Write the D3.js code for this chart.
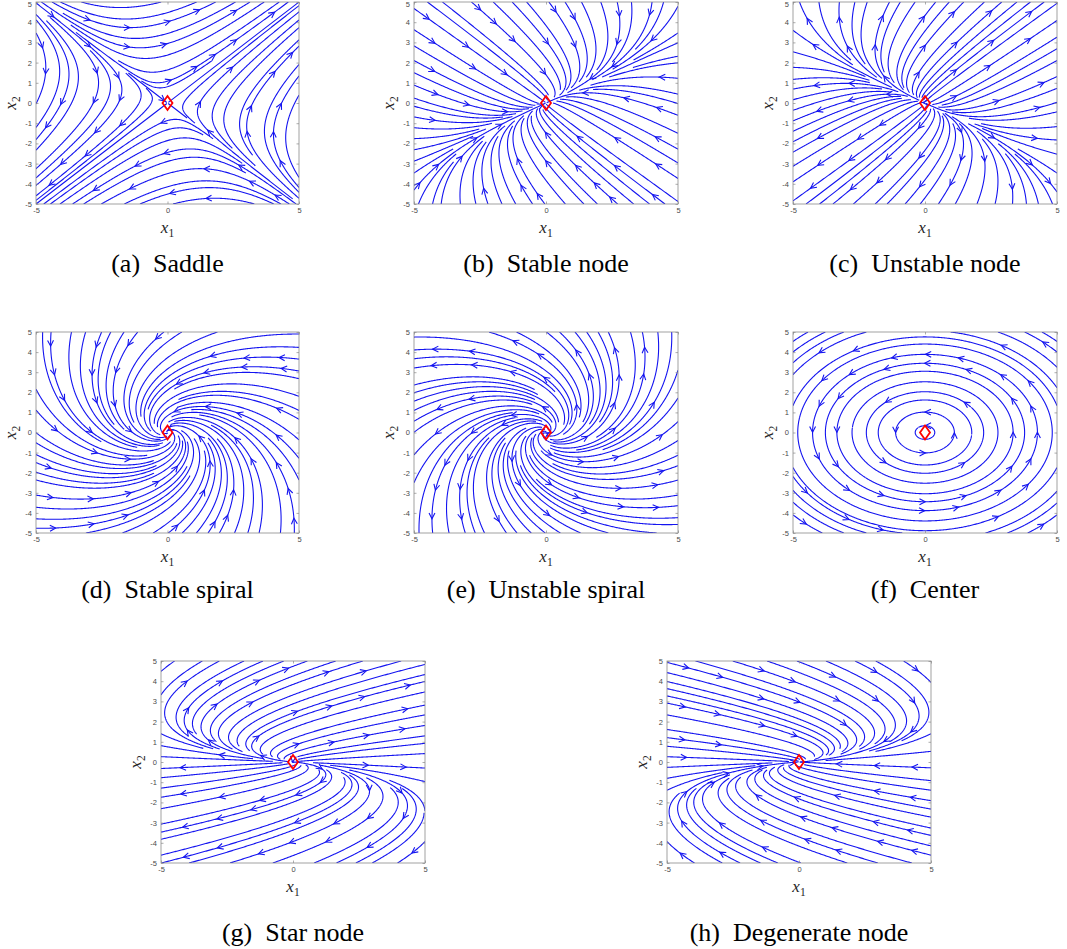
<!DOCTYPE html>
<html>
<head>
<meta charset="utf-8">
<script src="https://cdn.jsdelivr.net/npm/d3@7"></script>
<style>
  body { margin: 0; background: #fff; }
</style>
</head>
<body>
<svg id="fig" width="1067" height="949"></svg>
<script>
// Phase portraits of planar linear systems x' = A x.
const panelLetters = ["a", "b", "c", "d", "e", "f", "g", "h"];
const panelNames = ["Saddle", "Stable node", "Unstable node", "Stable spiral",
                    "Unstable spiral", "Center", "Star node", "Degenerate node"];
// System matrices [[a11, a12], [a21, a22]], one per portrait
const systemMatrices = [
  [[0.38, 1], [1, 0.38]],
  [[-1.75, 1.25], [0.7, -2.15]],
  [[1.75, 1.25], [0.7, 2.15]],
  [[-1, -1], [1, -1]],
  [[1, -1], [1, 1]],
  [[0, -1.2], [1, 0]],
  [[1, 2], [0, 1]],
  [[-1, 2], [0, -1]]
];
const equilibrium = [0, 0];
const axisDomain = [-5, 5];
const xTickValues = [-5, 0, 5];
const yTickValues = [-5, -4, -3, -2, -1, 0, 1, 2, 3, 4, 5];

// Panel placement: [left, top, width, height, captionBaseline]
const layout = [
  [36, 2, 263, 202, 272], [414, 2, 264, 202, 272], [793, 2, 264, 202, 272],
  [36, 332, 263, 201, 598], [414, 332, 264, 201, 598], [793, 332, 264, 201, 598],
  [161, 661, 264, 202, 941], [667, 661, 264, 202, 941]
];

// Evenly spaced streamlines: seed on a coarse grid, stop a line when it
// enters a fine-grid cell already claimed by another line.
function streamSlice(A) {
  const lo = axisDomain[0], hi = axisDomain[1], span = hi - lo;
  const NS = 20, NE = 80, NA = 7;
  const startGrid = new Uint8Array(NS * NS);
  const endOwner = new Int32Array(NE * NE).fill(-1);
  const endIdx = new Int32Array(NE * NE);
  const arrowTaken = new Uint8Array(NA * NA);
  const h = 0.035, maxSteps = 2000, loopGap = 45;
  const dirAt = (x, y) => {
    const u = A[0][0] * x + A[0][1] * y, v = A[1][0] * x + A[1][1] * y;
    const m = Math.hypot(u, v);
    return m < 1e-12 ? null : [u / m, v / m];
  };
  const cellOf = (x, y, n) => {
    let i = Math.floor((x - lo) / span * n), j = Math.floor((y - lo) / span * n);
    i = Math.max(0, Math.min(n - 1, i)); j = Math.max(0, Math.min(n - 1, j));
    return j * n + i;
  };
  const lines = [], arrows = [];
  const total = NS * NS;
  let id = 0;
  for (let k = 0; k < total; k++) {
    const cell = (k * 137 + 61) % total;
    if (startGrid[cell]) continue;
    startGrid[cell] = 1;
    const ci = cell % NS, cj = Math.floor(cell / NS);
    const x0 = lo + (ci + 0.5) * span / NS, y0 = lo + (cj + 0.5) * span / NS;
    const e0 = cellOf(x0, y0, NE);
    if (endOwner[e0] !== -1) continue;
    endOwner[e0] = id; endIdx[e0] = 0;
    const traces = [];
    for (const dir of [-1, 1]) {
      const pts = [];
      let x = x0, y = y0;
      for (let s = 1; s <= maxSteps; s++) {
        const f1 = dirAt(x, y); if (!f1) break;
        const f2 = dirAt(x + dir * f1[0] * h / 2, y + dir * f1[1] * h / 2); if (!f2) break;
        const nx = x + dir * f2[0] * h, ny = y + dir * f2[1] * h;
        if (nx < lo || nx > hi || ny < lo || ny > hi) {
          let t = 1;
          if (nx > hi) t = Math.min(t, (hi - x) / (nx - x));
          if (nx < lo) t = Math.min(t, (lo - x) / (nx - x));
          if (ny > hi) t = Math.min(t, (hi - y) / (ny - y));
          if (ny < lo) t = Math.min(t, (lo - y) / (ny - y));
          pts.push([x + (nx - x) * t, y + (ny - y) * t]);
          break;
        }
        if (Math.hypot(nx, ny) < 0.015) break;
        const e = cellOf(nx, ny, NE), idx = dir * s;
        if (endOwner[e] !== -1) {
          if (endOwner[e] !== id) break;
          if (Math.abs(endIdx[e] - idx) > loopGap) break;
        } else { endOwner[e] = id; endIdx[e] = idx; }
        startGrid[cellOf(nx, ny, NS)] = 1;
        pts.push([nx, ny]);
        x = nx; y = ny;
      }
      traces.push(pts);
    }
    const line = traces[0].slice().reverse().concat([[x0, y0]], traces[1]);
    id++;
    if (line.length < 4) continue;
    lines.push(line);
    // arrowheads: nearest vertex to each free arrow-cell centre
    const best = new Map();
    const csz = span / NA;
    for (let i = 3; i < line.length - 3; i++) {
      const [px, py] = line[i];
      const ac = cellOf(px, py, NA);
      if (arrowTaken[ac]) continue;
      const cx = lo + (ac % NA + 0.5) * csz, cy = lo + (Math.floor(ac / NA) + 0.5) * csz;
      const d = Math.hypot(px - cx, py - cy);
      if (d < 0.42 * csz && (!best.has(ac) || best.get(ac).d > d)) best.set(ac, { d, i });
    }
    for (const [ac, b] of best) {
      arrowTaken[ac] = 1;
      arrows.push({ p: line[b.i], prev: line[b.i - 1], next: line[b.i + 1] });
    }
  }
  return { lines, arrows };
}

const svg = d3.select("#fig");
const blue = "#1414f0";

systemMatrices.forEach((A, k) => {
  const [left, top, w, hgt, capY] = layout[k];
  const x = d3.scaleLinear().domain(axisDomain).range([left, left + w]);
  const y = d3.scaleLinear().domain(axisDomain).range([top + hgt, top]);
  const g = svg.append("g");

  g.append("clipPath").attr("id", "clip" + k)
    .append("rect").attr("x", left).attr("y", top).attr("width", w).attr("height", hgt);

  const { lines, arrows } = streamSlice(A);
  const plot = g.append("g").attr("clip-path", `url(#clip${k})`);
  const lineGen = d3.line().x(d => x(d[0])).y(d => y(d[1]));
  plot.selectAll("path.stream").data(lines).join("path")
    .attr("class", "stream")
    .attr("d", lineGen)
    .attr("fill", "none").attr("stroke", blue).attr("stroke-width", 1.1);

  const L = 6.5, ang = 27 * Math.PI / 180;
  plot.selectAll("path.arrow").data(arrows).join("path")
    .attr("class", "arrow")
    .attr("d", a => {
      const tx = x(a.p[0]), ty = y(a.p[1]);
      let dx = x(a.next[0]) - x(a.prev[0]), dy = y(a.next[1]) - y(a.prev[1]);
      const m = Math.hypot(dx, dy) || 1; dx /= m; dy /= m;
      const b = s => {
        const c = Math.cos(s * ang), sn = Math.sin(s * ang);
        const rx = dx * c - dy * sn, ry = dx * sn + dy * c;
        return [tx - L * rx, ty - L * ry];
      };
      const b1 = b(1), b2 = b(-1);
      return `M${b1[0]},${b1[1]}L${tx},${ty}L${b2[0]},${b2[1]}`;
    })
    .attr("fill", "none").attr("stroke", blue).attr("stroke-width", 1.1);

  // equilibrium marker
  const ex = x(equilibrium[0]), ey = y(equilibrium[1]);
  g.append("path")
    .attr("d", `M${ex},${ey - 7}L${ex + 5},${ey}L${ex},${ey + 7}L${ex - 5},${ey}Z`)
    .attr("fill", "none").attr("stroke", "#ff0000").attr("stroke-width", 1.8);

  // axes
  const axisStyle = sel => {
    sel.select(".domain").remove();
    sel.selectAll(".tick line").attr("stroke", "#8a8a8a").attr("stroke-width", 0.7);
    sel.selectAll(".tick text").attr("fill", "#4a4a4a")
      .style("font-family", "'Liberation Sans', Arial, sans-serif").style("font-size", "7.5px");
  };
  g.append("g").attr("transform", `translate(0,${top + hgt})`)
    .call(d3.axisBottom(x).tickValues(xTickValues).tickSize(-2.5).tickPadding(4).tickFormat(d => String(d)))
    .call(axisStyle);
  const yAxis = g.append("g").attr("transform", `translate(${left},0)`)
    .call(d3.axisLeft(y).tickValues(yTickValues).tickSize(-2.5).tickPadding(4).tickFormat(d => String(d)))
    .call(axisStyle);
  // keep the topmost tick label inside the page
  yAxis.selectAll(".tick text").attr("y", d => Math.max(0, 4.5 - y(d)));
  g.append("g").attr("transform", `translate(0,${top})`)
    .call(d3.axisTop(x).tickValues(xTickValues).tickSize(-2.5).tickFormat(""))
    .call(axisStyle);
  g.append("g").attr("transform", `translate(${left + w},0)`)
    .call(d3.axisRight(y).tickValues(yTickValues).tickSize(-2.5).tickFormat(""))
    .call(axisStyle);
  g.append("rect").attr("x", left).attr("y", top).attr("width", w).attr("height", hgt)
    .attr("fill", "none").attr("stroke", "#8a8a8a").attr("stroke-width", 0.8);

  // axis labels
  const xl = g.append("text")
    .attr("x", left + w / 2).attr("y", top + hgt + 29)
    .attr("text-anchor", "middle")
    .style("font-family", "'Liberation Serif', 'Times New Roman', serif")
    .style("font-size", "17px").attr("fill", "#262626");
  xl.append("tspan").style("font-style", "italic").text("x");
  xl.append("tspan").attr("dy", 3.5).style("font-size", "11.5px").text("1");

  const yl = g.append("text")
    .attr("transform", `translate(${left - 20},${top + hgt / 2}) rotate(-90)`)
    .attr("text-anchor", "middle")
    .style("font-family", "'Liberation Serif', 'Times New Roman', serif")
    .style("font-size", "17px").attr("fill", "#262626");
  yl.append("tspan").style("font-style", "italic").text("x");
  yl.append("tspan").attr("dy", 3.5).style("font-size", "11.5px").text("2");

  // caption
  g.append("text")
    .attr("x", left + w / 2).attr("y", capY)
    .attr("text-anchor", "middle")
    .style("font-family", "'Liberation Serif', 'Times New Roman', serif")
    .style("font-size", "26px").attr("fill", "#000")
    .text(`(${panelLetters[k]})\u2002${panelNames[k]}`);
});
</script>
</body>
</html>
